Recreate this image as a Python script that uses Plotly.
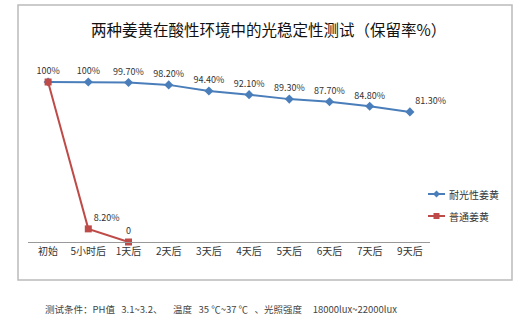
import plotly.graph_objects as go

categories = ["初始", "5小时后", "1天后", "2天后", "3天后", "4天后", "5天后", "6天后", "7天后", "9天后"]
blue_values = [100, 100, 99.7, 98.2, 94.4, 92.1, 89.3, 87.7, 84.8, 81.3]
blue_labels = ["100%", "100%", "99.70%", "98.20%", "94.40%", "92.10%", "89.30%", "87.70%", "84.80%", "81.30%"]
red_categories = ["初始", "5小时后", "1天后"]
red_values = [100, 8.2, 0]
red_labels = ["", "8.20%", "0"]
series_names = ["耐光性姜黄", "普通姜黄"]
title_text = "两种姜黄在酸性环境中的光稳定性测试（保留率%）"
footer_text = "测试条件：PH值   3.1~3.2、     温度   35 ℃~37 ℃   、光照强度     18000lux~22000lux"

BLUE = "#4A7EBB"
RED = "#BE4B48"
FONT = "Noto Sans CJK SC"

W, H = 529, 323
L, R, T, B = 28, 99, 50, 81
PW, PH = W - L - R, H - T - B

def px(x):
    return (x - L) / PW

def py(y):
    return (H - B - y) / PH

fig = go.Figure()
blue_pos = ["top center"] * (len(blue_values) - 1) + ["top right"]
fig.add_trace(go.Scatter(
    x=categories, y=blue_values, mode="lines+markers+text", name=series_names[0],
    line=dict(color=BLUE, width=2), marker=dict(symbol="diamond", size=7, color=BLUE),
    text=blue_labels, textposition=blue_pos,
    textfont=dict(size=9, color="#333333", family=FONT), cliponaxis=False,
))
fig.add_trace(go.Scatter(
    x=red_categories, y=red_values, mode="lines+markers+text", name=series_names[1],
    line=dict(color=RED, width=2), marker=dict(symbol="square", size=7, color=RED),
    text=red_labels, textposition=["top center", "top right", "top center"],
    textfont=dict(size=9, color="#333333", family=FONT), cliponaxis=False,
))

shapes = [
    dict(type="rect", xref="paper", yref="paper", x0=px(18), x1=px(512), y0=py(280), y1=py(5),
         line=dict(color="#BBBBBB", width=1.5), fillcolor="rgba(0,0,0,0)", layer="below"),
]
annotations = [
    dict(text=title_text, xref="paper", yref="paper", x=px(268), y=py(29), showarrow=False,
         font=dict(size=15.5, color="#111111", family=FONT), xanchor="center", yanchor="middle"),
    dict(text=footer_text, xref="paper", yref="paper", x=px(43), y=py(309), showarrow=False,
         font=dict(size=9.5, color="#444444", family=FONT), xanchor="left", yanchor="middle"),
]
# manual legend
legend_rows = [(194, BLUE, "diamond", series_names[0]), (216, RED, "square", series_names[1])]
for yy, col, sym, name in legend_rows:
    shapes.append(dict(type="line", xref="paper", yref="paper", x0=px(428), x1=px(445),
                       y0=py(yy), y1=py(yy), line=dict(color=col, width=2)))
    cx, cy = 436.5, yy
    if sym == "diamond":
        path = f"M{px(cx-3.5)},{py(cy)} L{px(cx)},{py(cy-3.5)} L{px(cx+3.5)},{py(cy)} L{px(cx)},{py(cy+3.5)} Z"
    else:
        path = f"M{px(cx-3)},{py(cy-3)} L{px(cx+3)},{py(cy-3)} L{px(cx+3)},{py(cy+3)} L{px(cx-3)},{py(cy+3)} Z"
    shapes.append(dict(type="path", xref="paper", yref="paper", path=path,
                       fillcolor=col, line=dict(color=col, width=0)))
    annotations.append(dict(text=name, xref="paper", yref="paper", x=px(447), y=py(yy),
                            showarrow=False, xanchor="left", yanchor="middle",
                            font=dict(size=10, color="#333333", family=FONT)))

fig.update_layout(
    width=W, height=H, margin=dict(l=L, r=R, t=T, b=B),
    paper_bgcolor="white", plot_bgcolor="white", showlegend=False,
    font=dict(family=FONT),
    xaxis=dict(type="category", categoryorder="array", categoryarray=categories,
               showline=True, linecolor="#999999", linewidth=1, showgrid=False, ticks="",
               tickfont=dict(size=10, color="#333333", family=FONT), range=[-0.5, 9.5]),
    yaxis=dict(range=[0, 120], visible=False, showgrid=False, zeroline=False),
    shapes=shapes, annotations=annotations,
)
fig.write_html("out.html")
